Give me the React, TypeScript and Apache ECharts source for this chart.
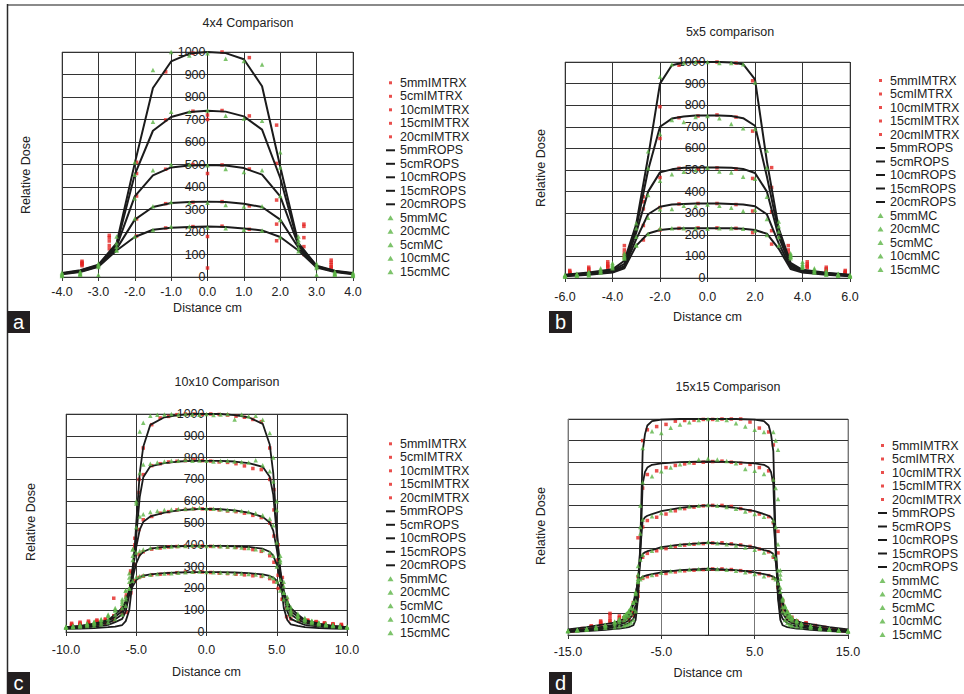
import React, { useEffect, useRef } from 'react';
import * as echarts from 'echarts';

// ---------- shared ----------
const DEPTHS = ['5mm', '5cm', '10cm', '15cm', '20cm'];
const LEGEND_NAMES = [
  '5mmIMTRX', '5cmIMTRX', '10cmIMTRX', '15cmIMTRX', '20cmIMTRX',
  '5mmROPS', '5cmROPS', '10cmROPS', '15cmROPS', '20cmROPS',
  '5mmMC', '20cmMC', '5cmMC', '10cmMC', '15cmMC',
];
const Y_TICKS = [0, 100, 200, 300, 400, 500, 600, 700, 800, 900, 1000];

// ---------- panel a : 4x4 ----------
const A_ROPS_X = [-4, -3.5, -3, -2.5, -2, -1.5, -1, -0.5, 0, 0.5, 1, 1.5, 2, 2.5, 3, 3.5, 4];
const A_ROPS_Y = [
  [18, 30, 55, 150, 505, 840, 958, 993, 1000, 995, 968, 848, 490, 150, 50, 28, 18],
  [16, 28, 52, 140, 455, 650, 711, 733, 739, 735, 714, 655, 440, 145, 48, 26, 16],
  [15, 26, 50, 135, 358, 452, 487, 496, 498, 496, 484, 455, 358, 140, 46, 25, 15],
  [14, 24, 48, 125, 255, 311, 329, 333, 335, 333, 326, 311, 255, 130, 45, 24, 14],
  [12, 22, 45, 118, 178, 210, 219, 222, 224, 222, 216, 207, 178, 118, 42, 22, 12],
];
const A_IM_X = [-3.45, -2.7, -1.95, -1.15, -0.4, 0, 0.4, 1.15, 1.9, 2.65, 3.4];
const A_IM_Y = [
  [70, 185, 510, 912, 995, 720, 1000, 975, 675, 235, 75],
  [65, 175, 460, 698, 737, 700, 740, 716, 505, 225, 65],
  [60, 160, 360, 479, 500, 460, 498, 480, 342, 175, 55],
  [55, 140, 258, 326, 332, 180, 335, 316, 235, 135, 45],
  [50, 125, 182, 218, 224, 40, 226, 212, 161, 100, 40],
];
const A_MC_X = [-4, -3.5, -3, -2.5, -2, -1.5, -1, -0.5, 0, 0.5, 1, 1.5, 2, 2.5, 3, 3.5, 4];
const A_MC_Y = [
  [20, 25, 60, 180, 510, 920, 1000, 985, 995, 970, 960, 945, 555, 180, 60, 25, 20],
  [15, 20, 55, 150, 455, 690, 735, 735, 740, 717, 705, 695, 487, 165, 50, 20, 15],
  [10, 15, 50, 135, 350, 474, 500, 500, 497, 480, 467, 475, 360, 150, 45, 15, 10],
  [8, 12, 45, 120, 260, 315, 333, 330, 330, 320, 313, 315, 253, 130, 40, 12, 8],
  [5, 10, 10, 118, 180, 209, 225, 225, 220, 217, 210, 207, 177, 115, 10, 10, 5],
];

// ---------- panel b : 5x5 ----------
const B_ROPS_X = [-6, -5, -4, -3.5, -3, -2.5, -2, -1.5, -1, -0.5, 0, 0.5, 1, 1.5, 2, 2.5, 3, 3.5, 4, 5, 6];
const B_ROPS_Y = [
  [15, 25, 40, 80, 250, 560, 900, 985, 998, 1000, 1000, 1000, 998, 990, 920, 540, 230, 70, 38, 24, 15],
  [13, 22, 35, 65, 230, 500, 700, 738, 748, 752, 752, 752, 750, 740, 705, 470, 210, 62, 35, 22, 13],
  [12, 20, 32, 55, 210, 400, 489, 503, 510, 512, 512, 512, 510, 505, 486, 400, 190, 55, 32, 20, 12],
  [10, 18, 28, 50, 180, 295, 330, 340, 343, 345, 345, 345, 343, 340, 332, 295, 160, 48, 28, 18, 10],
  [8, 15, 25, 45, 150, 206, 222, 228, 230, 230, 230, 230, 230, 228, 222, 205, 135, 42, 25, 15, 8],
];
const B_IM_X = [-5.8, -5, -4.2, -3.5, -2.7, -2, -1.2, -0.4, 0.4, 1.2, 1.9, 2.7, 3.4, 4.2, 5, 5.8];
const B_IM_Y = [
  [35, 50, 75, 150, 376, 793, 985, 1000, 1000, 995, 913, 511, 150, 75, 50, 35],
  [30, 42, 65, 130, 353, 646, 742, 750, 755, 745, 680, 419, 130, 65, 42, 30],
  [25, 35, 58, 115, 320, 465, 508, 505, 510, 505, 461, 307, 115, 58, 35, 25],
  [22, 30, 52, 105, 243, 326, 343, 345, 345, 340, 310, 219, 105, 52, 30, 22],
  [20, 25, 48, 95, 176, 222, 230, 232, 232, 230, 210, 157, 95, 48, 25, 20],
];
const B_MC_X = [-6, -5.5, -5, -4.5, -4, -3.5, -3, -2.5, -2, -1.5, -1, -0.5, 0, 0.5, 1, 1.5, 2, 2.5, 3, 3.5, 4, 4.5, 5, 5.5, 6];
const B_MC_Y = [
  [15, 20, 30, 45, 70, 115, 253, 587, 932, 990, 995, 1000, 1000, 995, 995, 990, 905, 590, 261, 115, 75, 45, 35, 20, 15],
  [12, 18, 25, 38, 62, 105, 230, 508, 667, 731, 722, 745, 750, 740, 713, 693, 690, 510, 240, 108, 65, 38, 28, 18, 12],
  [10, 15, 20, 32, 55, 100, 191, 384, 450, 480, 492, 500, 510, 493, 488, 469, 460, 376, 215, 102, 58, 32, 22, 15, 10],
  [8, 12, 15, 28, 50, 95, 153, 279, 318, 320, 335, 335, 340, 335, 325, 310, 315, 273, 190, 98, 52, 28, 18, 12, 8],
  [6, 10, 12, 25, 45, 90, 150, 204, 230, 230, 230, 230, 228, 230, 230, 228, 220, 199, 150, 92, 48, 25, 15, 10, 6],
];

// ---------- panel c : 10x10 ----------
const C_ROPS_X = [-10, -9, -8, -7, -6.5, -6, -5.75, -5.5, -5.25, -5, -4.75, -4.5, -4, -3, -2, -1, 0,
  1, 2, 3, 4, 4.5, 4.75, 5, 5.25, 5.5, 5.75, 6, 6.5, 7, 8, 9, 10];
const C_ROPS_Y = [
  [15, 16, 18, 22, 25, 32, 50, 100, 240, 500, 730, 850, 950, 985, 995, 1000, 1000,
    1000, 995, 985, 955, 860, 730, 480, 250, 110, 55, 35, 28, 22, 18, 16, 15],
  [18, 20, 25, 33, 45, 60, 95, 170, 300, 440, 620, 710, 760, 775, 782, 785, 785,
    785, 782, 775, 758, 712, 630, 450, 290, 170, 95, 60, 45, 33, 25, 20, 18],
  [20, 24, 30, 42, 58, 80, 120, 190, 280, 390, 470, 505, 530, 548, 558, 563, 565,
    563, 558, 548, 528, 502, 465, 380, 275, 185, 120, 80, 58, 42, 30, 24, 20],
  [22, 27, 35, 50, 70, 95, 140, 195, 250, 315, 352, 368, 382, 390, 393, 395, 395,
    395, 393, 390, 382, 368, 350, 310, 245, 190, 140, 95, 70, 50, 35, 27, 22],
  [22, 28, 38, 55, 80, 110, 140, 175, 210, 238, 252, 258, 264, 270, 273, 275, 275,
    275, 273, 270, 264, 257, 250, 235, 205, 170, 140, 110, 80, 55, 38, 28, 22],
];
const C_IM_X = [-9.6, -9, -8.4, -7.8, -7.2, -6.6, -6, -5.7, -5.4, -5.1, -4.8, -4.5,
  -3.9, -3.3, -2.7, -2.1, -1.5, -0.9, -0.3, 0.3, 0.9, 1.5, 2.1, 2.7, 3.3, 3.9,
  4.5, 4.8, 5.1, 5.4, 5.7, 6, 6.6, 7.2, 7.8, 8.4, 9, 9.6];
const C_IM_Y = [
  [40, 45, 50, 55, 60, 75, 85, 90, 180, 400, 700, 844,
    951, 982, 989, 997, 1000, 1000, 998, 1000, 998, 995, 990, 985, 975, 965,
    844, 653, 330, 150, 70, 60, 55, 50, 45, 40, 38, 35],
  [35, 40, 45, 50, 55, 155, 95, 160, 280, 430, 640, 722,
    763, 772, 780, 783, 786, 790, 786, 784, 780, 778, 772, 762, 750, 745,
    700, 560, 400, 250, 150, 90, 65, 55, 48, 42, 36, 32],
  [30, 35, 40, 45, 50, 65, 100, 170, 270, 390, 470, 515,
    530, 545, 552, 560, 562, 565, 565, 563, 560, 555, 552, 545, 535, 525,
    500, 440, 330, 220, 140, 90, 60, 50, 42, 36, 32, 28],
  [28, 32, 36, 40, 45, 60, 110, 160, 220, 310, 355, 368,
    380, 385, 390, 392, 395, 395, 395, 393, 392, 390, 388, 383, 378, 370,
    350, 320, 260, 190, 130, 90, 60, 48, 40, 34, 30, 26],
  [25, 28, 32, 36, 40, 55, 100, 140, 180, 235, 250, 256,
    262, 265, 268, 272, 275, 275, 275, 273, 270, 268, 265, 262, 258, 255,
    245, 230, 200, 150, 110, 80, 55, 45, 38, 32, 28, 25],
];
const C_MC_X = [-10, -9.5, -9, -8.5, -8, -7.5, -7, -6.5, -6, -5.75, -5.5, -5.25, -5, -4.75, -4.5,
  -4, -3.5, -3, -2.5, -2, -1.5, -1, -0.5, 0, 0.5, 1, 1.5, 2, 2.5, 3, 3.5, 4,
  4.5, 4.75, 5, 5.25, 5.5, 5.75, 6, 6.5, 7, 7.5, 8, 8.5, 9, 9.5, 10];
const C_MC_Y = [
  [20, 22, 25, 28, 30, 35, 45, 60, 80, 120, 200, 350, 600, 920, 960, 992, 997, 998, 1000, 998,
    1000, 998, 996, 1000, 995, 998, 1000, 975, 998, 990, 992, 974, 913, 800, 600, 330, 180, 110, 80, 60,
    48, 40, 34, 30, 26, 22, 20],
  [22, 25, 28, 32, 38, 45, 60, 80, 110, 150, 230, 380, 590, 729, 768, 772, 778, 782, 785, 785,
    790, 785, 787, 785, 782, 785, 786, 782, 780, 778, 788, 765, 737, 690, 560, 350, 210, 140, 100, 75,
    58, 48, 40, 34, 30, 26, 22],
  [24, 28, 32, 38, 45, 55, 75, 100, 140, 190, 270, 380, 480, 530, 540, 550, 555, 560, 562, 564,
    565, 568, 570, 566, 565, 563, 560, 558, 555, 550, 545, 535, 520, 490, 410, 320, 230, 160, 115, 85,
    65, 52, 44, 38, 32, 28, 24],
  [24, 28, 34, 40, 48, 60, 80, 110, 150, 190, 250, 330, 365, 372, 378, 385, 388, 390, 392, 394,
    395, 398, 396, 395, 394, 393, 392, 390, 388, 385, 380, 376, 365, 350, 300, 240, 180, 130, 95, 75,
    60, 50, 42, 36, 32, 28, 24],
  [22, 26, 30, 36, 44, 55, 75, 100, 130, 160, 200, 235, 252, 256, 260, 263, 266, 268, 270, 272,
    274, 276, 278, 275, 274, 273, 272, 270, 268, 266, 264, 260, 255, 248, 230, 190, 150, 115, 90, 70,
    56, 46, 40, 34, 30, 26, 22],
];

// ---------- panel d : 15x15 ----------
const D_ROPS_X = [-15, -13, -11, -10, -9.5, -9, -8.5, -8, -7.75, -7.5, -7.25, -7, -6.75, -6.5, -6, -5, -3, -1, 0,
  1, 3, 5, 6, 6.5, 6.75, 7, 7.25, 7.5, 7.75, 8, 8.5, 9, 9.5, 10, 11, 13, 15];
const D_ROPS_Y = [
  [14, 18, 24, 28, 30, 33, 36, 45, 70, 170, 430, 850, 930, 970, 990, 997, 1000, 1000, 1000,
    1000, 1000, 997, 990, 970, 930, 850, 430, 170, 70, 45, 36, 33, 30, 28, 24, 18, 14],
  [16, 22, 30, 36, 40, 45, 55, 75, 100, 180, 380, 700, 755, 775, 788, 795, 800, 803, 804,
    803, 800, 795, 788, 775, 755, 700, 380, 180, 100, 75, 55, 45, 40, 36, 30, 22, 16],
  [18, 24, 35, 42, 48, 55, 68, 100, 140, 250, 400, 530, 545, 552, 560, 573, 589, 598, 600,
    598, 589, 573, 560, 552, 545, 530, 400, 250, 140, 100, 68, 55, 48, 42, 35, 24, 18],
  [20, 28, 40, 48, 55, 65, 85, 140, 180, 260, 340, 375, 383, 388, 393, 407, 418, 424, 427,
    424, 418, 407, 393, 388, 383, 375, 340, 260, 180, 140, 85, 65, 55, 48, 40, 28, 20],
  [26, 36, 50, 57, 65, 75, 96, 150, 196, 245, 262, 270, 274, 277, 282, 290, 300, 305, 307,
    305, 300, 290, 282, 277, 274, 270, 262, 245, 196, 150, 96, 75, 65, 57, 50, 36, 26],
];
const D_IM_X = [-14.5, -13.5, -12.5, -11.5, -10.5, -9.5, -9, -8.5, -8, -7.5, -7,
  -6.5, -5.5, -4.5, -3.5, -2.5, -1.5, -0.5, 0.5, 1.5, 2.5, 3.5, 4.5, 5.5, 6.5,
  7, 7.5, 8, 8.5, 9, 9.5, 10.5, 11.5, 12.5, 13.5, 14.5];
const D_IM_Y = [
  [20, 28, 40, 65, 100, 88, 80, 85, 110, 450, 900,
    950, 965, 975, 990, 993, 995, 998, 998, 1000, 1000, 1000, 986, 958, 940,
    880, 480, 120, 85, 70, 60, 50, 40, 32, 25, 20],
  [22, 30, 42, 60, 90, 80, 75, 80, 95, 270, 680,
    743, 760, 775, 785, 792, 795, 800, 803, 805, 800, 795, 790, 775, 760,
    720, 380, 140, 80, 70, 62, 55, 42, 35, 28, 22],
  [22, 28, 38, 55, 75, 70, 65, 70, 90, 180, 500,
    530, 545, 560, 575, 585, 592, 598, 600, 600, 595, 585, 575, 560, 548,
    520, 230, 120, 80, 68, 60, 50, 40, 32, 26, 22],
  [22, 28, 36, 50, 65, 62, 60, 68, 110, 200, 360,
    378, 390, 400, 410, 416, 420, 423, 426, 427, 422, 417, 410, 398, 385,
    360, 220, 110, 72, 62, 55, 48, 38, 30, 26, 22],
  [20, 26, 34, 45, 58, 65, 80, 100, 150, 230, 262,
    270, 278, 285, 292, 297, 300, 303, 306, 306, 303, 298, 292, 284, 275,
    262, 230, 160, 105, 82, 66, 56, 44, 34, 26, 20],
];
const D_MC_X = [-15, -14, -13, -12, -11, -10, -9.5, -9, -8.75, -8.5, -8.25, -8, -7.75, -7.5, -7.25, -7,
  -6, -5, -4, -3, -2, -1, 0, 1, 2, 3, 4, 5, 6,
  7, 7.25, 7.5, 7.75, 8, 8.25, 8.5, 8.75, 9, 9.5, 10, 11, 12, 13, 14, 15];
const D_MC_Y = [
  [18, 22, 25, 30, 33, 36, 40, 44, 48, 52, 58, 70, 110, 250, 600, 866,
    943, 935, 960, 975, 985, 995, 1000, 998, 995, 980, 965, 950, 940,
    940, 900, 858, 300, 110, 70, 55, 48, 44, 40, 36, 32, 28, 24, 20, 16],
  [18, 22, 26, 32, 40, 50, 60, 70, 78, 88, 100, 120, 160, 280, 500, 707,
    735, 758, 775, 790, 800, 812, 817, 812, 805, 795, 769, 760, 745,
    720, 680, 630, 260, 130, 100, 85, 75, 68, 58, 50, 42, 35, 28, 22, 18],
  [20, 24, 30, 36, 45, 58, 70, 85, 95, 108, 125, 150, 200, 320, 470, 535,
    550, 565, 578, 588, 595, 598, 602, 598, 593, 585, 572, 560, 548,
    530, 500, 420, 280, 170, 130, 105, 90, 78, 65, 52, 42, 34, 28, 22, 20],
  [20, 25, 30, 38, 48, 62, 75, 90, 100, 112, 128, 150, 190, 260, 350, 372,
    390, 405, 412, 418, 423, 426, 430, 425, 420, 414, 405, 395, 382,
    370, 355, 300, 220, 165, 135, 112, 95, 82, 68, 54, 42, 34, 28, 22, 20],
  [18, 22, 28, 36, 46, 60, 72, 85, 95, 108, 125, 150, 195, 245, 258, 268,
    278, 288, 295, 300, 303, 305, 308, 305, 302, 297, 290, 282, 272,
    265, 258, 240, 200, 160, 130, 108, 92, 80, 66, 50, 40, 32, 26, 22, 16],
];

const PANEL_DATA: Record<string, any> = {
  a: { imX: A_IM_X, im: A_IM_Y, ropsX: A_ROPS_X, rops: A_ROPS_Y, mcX: A_MC_X, mc: A_MC_Y },
  b: { imX: B_IM_X, im: B_IM_Y, ropsX: B_ROPS_X, rops: B_ROPS_Y, mcX: B_MC_X, mc: B_MC_Y },
  c: { imX: C_IM_X, im: C_IM_Y, ropsX: C_ROPS_X, rops: C_ROPS_Y, mcX: C_MC_X, mc: C_MC_Y },
  d: { imX: D_IM_X, im: D_IM_Y, ropsX: D_ROPS_X, rops: D_ROPS_Y, mcX: D_MC_X, mc: D_MC_Y },
};

// ---------- layout / style ----------
const RED = '#e42320';
const GREEN = '#5db446';
const BLACK = '#1b1b1b';
const FONT = "'Liberation Sans', Arial, Helvetica, sans-serif";
const ICON_SQ = 'path://M0,0M9,10M3,3.5L6,3.5L6,6.5L3,6.5Z';
const ICON_LINE = 'path://M0,0M9,10M0,4L9,4L9,6L0,6Z';
const ICON_TRI = 'path://M0,0M9,10M4.5,2.5L7.5,7.5L1.5,7.5Z';

const PANELS = [
  { id: 'a', title: '4x4 Comparison', titleXY: [248, 23], grid: { left: 62, top: 52, width: 291, height: 225 },
    xMin: -4, xMax: 4, xInt: 1, showY: true, nameGap: 24, labelMargin: 8, legend: [386, 76.3],
    ylab: [26, 175], box: [7, 311], lineW: 2, vGrid: '#333' },
  { id: 'b', title: '5x5 comparison', titleXY: [730, 32], grid: { left: 565, top: 62, width: 285, height: 216 },
    xMin: -6, xMax: 6, xInt: 2, showY: true, nameGap: 32, labelMargin: 12, legend: [876, 74],
    ylab: [541, 168], box: [549, 311], lineW: 2, vGrid: '#333' },
  { id: 'c', title: '10x10 Comparison', titleXY: [227, 382], grid: { left: 66, top: 414, width: 281, height: 218 },
    xMin: -10, xMax: 10, xInt: 5, showY: true, nameGap: 33, labelMargin: 11, legend: [386, 437.3],
    ylab: [31, 522], box: [7, 672], lineW: 1.8, vGrid: '#333' },
  { id: 'd', title: '15x15 Comparison', titleXY: [728, 387], grid: { left: 568, top: 419, width: 280, height: 216 },
    xMin: -15, xMax: 15, xInt: 10, showY: false, nameGap: 31, labelMargin: 10, legend: [878, 439],
    ylab: [541, 526], box: [549, 672], lineW: 1.8, vGrid: '#777' },
];

function legendData() {
  return LEGEND_NAMES.map((n) => {
    if (n.endsWith('IMTRX')) return { name: n, icon: ICON_SQ, itemStyle: { color: RED, borderWidth: 0 } };
    if (n.endsWith('ROPS')) return { name: n, icon: ICON_LINE, itemStyle: { color: BLACK, borderWidth: 0 } };
    return { name: n, icon: ICON_TRI, itemStyle: { color: GREEN, borderWidth: 0 } };
  });
}

function buildOption() {
  const grid: any[] = [];
  const xAxis: any[] = [];
  const yAxis: any[] = [];
  const series: any[] = [];
  const legend: any[] = [];
  const graphic: any[] = [
    { type: 'line', silent: true, shape: { x1: 7, y1: 5, x2: 964, y2: 5 }, style: { stroke: '#8a8a8a', lineWidth: 2 } },
    { type: 'line', silent: true, shape: { x1: 7.5, y1: 4, x2: 7.5, y2: 694 }, style: { stroke: '#2a2a2a', lineWidth: 1.5 } },
  ];

  PANELS.forEach((p, i) => {
    const d = PANEL_DATA[p.id];
    // y axis sits at x = 0 of the distance axis (labels drawn beside it)
    const yOffset = -(p.grid.width * (0 - p.xMin)) / (p.xMax - p.xMin);
    grid.push({ ...p.grid, show: true, borderColor: '#8c8c8c', borderWidth: 1, containLabel: false });
    xAxis.push({
      type: 'value', gridIndex: i, min: p.xMin, max: p.xMax, interval: p.xInt,
      name: 'Distance cm', nameLocation: 'middle', nameGap: p.nameGap,
      nameTextStyle: { fontFamily: FONT, fontSize: 12.5, color: '#222' },
      axisLine: { show: true, onZero: false, lineStyle: { color: '#333', width: 1 } },
      axisTick: { show: true, length: 4, lineStyle: { color: '#333' } },
      axisLabel: { margin: p.labelMargin, fontFamily: FONT, fontSize: 12.5, color: '#222',
        formatter: (v: number) => v.toFixed(1) },
      splitLine: { show: true, lineStyle: { color: p.vGrid, width: 1 } },
    });
    yAxis.push({
      type: 'value', gridIndex: i, position: 'left', offset: yOffset,
      min: Y_TICKS[0], max: Y_TICKS[Y_TICKS.length - 1], interval: Y_TICKS[1] - Y_TICKS[0],
      axisLine: { show: true, onZero: false, lineStyle: { color: '#222', width: 1 } },
      axisTick: { show: !p.showY, length: 3, inside: false, lineStyle: { color: '#222' } },
      axisLabel: { show: p.showY, margin: 2, fontFamily: FONT, fontSize: 12.5, color: '#222',
        formatter: (v: number) => String(v) },
      splitLine: { show: true, lineStyle: { color: '#333', width: 1 } },
    });
    DEPTHS.forEach((dep, k) => {
      series.push({
        type: 'scatter', name: dep + 'IMTRX', xAxisIndex: i, yAxisIndex: i, silent: true,
        symbol: 'rect', symbolSize: 3.5, itemStyle: { color: RED }, z: 3,
        data: d.imX.map((x: number, j: number) => [x, d.im[k][j]]),
      });
    });
    DEPTHS.forEach((dep, k) => {
      series.push({
        type: 'line', name: dep + 'ROPS', xAxisIndex: i, yAxisIndex: i, silent: true,
        symbol: 'none', showSymbol: false, color: BLACK,
        lineStyle: { color: BLACK, width: p.lineW }, itemStyle: { color: BLACK }, z: 4,
        data: d.ropsX.map((x: number, j: number) => [x, d.rops[k][j]]),
      });
    });
    DEPTHS.forEach((dep, k) => {
      series.push({
        type: 'scatter', name: dep + 'MC', xAxisIndex: i, yAxisIndex: i, silent: true,
        symbol: 'triangle', symbolSize: 4.5, itemStyle: { color: GREEN }, z: 5,
        data: d.mcX.map((x: number, j: number) => [x, d.mc[k][j]]),
      });
    });
    legend.push({
      orient: 'vertical', left: p.legend[0], top: p.legend[1], padding: 0,
      itemWidth: 9, itemHeight: 10, itemGap: 0.5, selectedMode: false,
      textStyle: { fontFamily: FONT, fontSize: 12.5, color: '#222' },
      data: legendData(),
    });
    graphic.push(
      { type: 'text', silent: true, x: p.titleXY[0], y: p.titleXY[1],
        style: { text: p.title, fontFamily: FONT, fontSize: 12.5, fill: '#222', align: 'center', verticalAlign: 'middle' } },
      { type: 'text', silent: true, x: p.ylab[0], y: p.ylab[1], rotation: Math.PI / 2,
        style: { text: 'Relative Dose', fontFamily: FONT, fontSize: 12.5, fill: '#222', align: 'center', verticalAlign: 'middle' } },
      { type: 'rect', silent: true, shape: { x: p.box[0], y: p.box[1], width: 23, height: 22 }, style: { fill: '#231f20' } },
      { type: 'text', silent: true, x: p.box[0] + 11.5, y: p.box[1] + 11,
        style: { text: p.id, fontFamily: FONT, fontSize: 20, fill: '#ffffff', align: 'center', verticalAlign: 'middle' } },
    );
  });

  return {
    animation: false,
    backgroundColor: '#ffffff',
    textStyle: { fontFamily: FONT },
    grid, xAxis, yAxis, series, legend, graphic,
  };
}

export default function App() {
  const ref = useRef<HTMLDivElement>(null);
  useEffect(() => {
    if (!ref.current) return;
    const chart = echarts.init(ref.current, undefined, { renderer: 'svg' });
    chart.setOption(buildOption() as any);
    return () => chart.dispose();
  }, []);
  return (
    <div
      ref={ref}
      style={{ position: 'fixed', left: 0, top: 0, width: 964, height: 694, background: '#fff' }}
    />
  );
}
